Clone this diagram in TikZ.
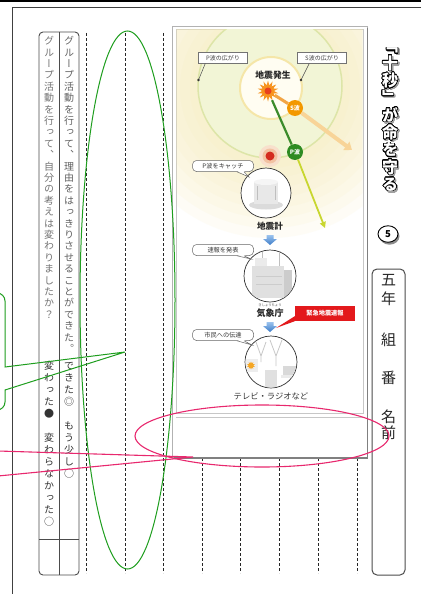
\documentclass[tikz,border=0pt]{standalone}
\usepackage{fontspec}
\usepackage{contour}
\usetikzlibrary{shapes.geometric,arrows.meta}

\newfontfamily\jp{Noto Sans CJK JP}
\newfontfamily\jpv[RawFeature=+vert]{Noto Sans CJK JP}

\contourlength{0.6pt}
\contournumber{24}

\definecolor{markgreen}{HTML}{1E9E1E}
\definecolor{markpink}{HTML}{E8286E}
\definecolor{glowcream}{HTML}{F8EDB8}
\definecolor{discgreen}{HTML}{F2F5D6}
\definecolor{discrim}{HTML}{DDE5A8}
\definecolor{corecream}{HTML}{FFFDF2}
\definecolor{corerim}{HTML}{F5E6A8}
\definecolor{burstorange}{HTML}{F7931E}
\definecolor{burstred}{HTML}{E8401E}
\definecolor{sorange}{HTML}{F39800}
\definecolor{sline}{HTML}{F2A545}
\definecolor{spale}{HTML}{F8D498}
\definecolor{pgreen}{HTML}{2E8B22}
\definecolor{pline}{HTML}{3B8B2B}
\definecolor{ptrail}{HTML}{C8D630}
\definecolor{ringouter}{HTML}{F8E0CC}
\definecolor{ringinner}{HTML}{F2C2A2}
\definecolor{stationred}{HTML}{D42A1E}
\definecolor{alertred}{HTML}{E3191C}
\definecolor{arrowtop}{HTML}{9CC3EE}
\definecolor{arrowbot}{HTML}{3C7CC8}
\definecolor{sunorange}{HTML}{F5A623}
\definecolor{titleshadow}{HTML}{A0A0A0}

% vertical (tategaki) stacking: one glyph per cell of fixed pitch
\makeatletter
\newdimen\tate@pitch
\def\tate@end{tate@end@marker}
\newcommand\tatebox[3]{\vbox{\offinterlineskip\tate@pitch=#1\relax\def\tate@cmd{#2}\tate@loop#3\tate@end}}
\def\tate@loop#1{\ifx#1\tate@end\else\tate@cell{#1}\expandafter\tate@loop\fi}
\def\tate@cell#1{\vbox to\tate@pitch{\vss\hbox to 0pt{\hss\smash{\tate@cmd{#1}}\hss}\kern\dimexpr(\tate@pitch-1em)/2+0.12em\relax}}
\makeatother
\newcommand\tateid[1]{#1}
% outlined title glyphs: white body with black contour, grey drop shadow
\newcommand\ttlglyph[1]{\contour{black}{\textcolor{white}{#1}}}
\newcommand\ttlshade[1]{\contour{titleshadow}{\textcolor{titleshadow}{#1}}}

\tikzset{
  downarrow/.pic={\shade[top color=arrowtop, bottom color=arrowbot]
    (-3.5,-5) -- (3.5,-5) -- (3.5,-1) -- (7,-1) -- (0,5) -- (-7,-1) -- (-3.5,-1) -- cycle;}
}

\begin{document}
\begin{tikzpicture}[x=1pt,y=-1pt,
  dashline/.style={black!85, line width=0.8pt, dash pattern=on 3pt off 2pt},
  tableline/.style={draw=black!70, line width=0.9pt},
  coltext/.style={anchor=north, inner sep=0pt, font=\jpv\fontsize{10}{10}\selectfont},
  titletext/.style={anchor=north, inner sep=0pt, font=\jpv\bfseries\fontsize{16}{16}\selectfont},
  wavelbl/.style={draw=black!55, fill=white, line width=0.5pt, inner sep=1pt,
    minimum width=49pt, minimum height=10.5pt, font=\jp\fontsize{6}{6}\selectfont, text=black!75},
  leader/.style={black!70, line width=0.5pt},
  badge/.style={circle, minimum size=16pt, inner sep=0pt, text=white,
    font=\jp\bfseries\fontsize{6}{6}\selectfont},
  bubble/.style={draw=black!60, fill=white, rounded corners=4pt, line width=0.5pt, inner sep=1pt,
    minimum width=61pt, minimum height=11pt, font=\jp\fontsize{6.2}{6.2}\selectfont, text=black!80},
  bubbleline/.style={black!60, line width=0.5pt},
  stage/.style={circle, draw=black!80, fill=white, line width=0.7pt, inner sep=0pt},
  caption/.style={inner sep=0pt, font=\jp\bfseries\fontsize{8.6}{9}\selectfont, text=black!85},
  alertbox/.style={fill=alertred, text=white, inner sep=1pt, minimum width=60pt, minimum height=15pt,
    font=\jp\bfseries\fontsize{6.2}{6.2}\selectfont},
  namechar/.style={inner sep=0pt, font=\jp\fontsize{15}{15}\selectfont, text=black!85}
]
\useasboundingbox (0,0) rectangle (421,594);
\fill[white] (0,0) rectangle (421,594);

% page frame
\fill[black] (0,0) rectangle (421,2);
\draw[black!75, line width=1pt] (421,8) -- (12,8) -- (12,594);

% self-evaluation table
\draw[tableline, rounded corners=4pt] (39,32) rectangle (79,575);
\draw[tableline] (59,32) -- (59,575);
\draw[tableline] (39,539) -- (79,539);
\node[coltext, text=black!62] (qreason) at (69,35)
  {\tatebox{11.4pt}{\tateid}{グループ活動を行って、理由をはっきりさせることができた。}};
\node[coltext, text=black!55] (qchange) at (49,35)
  {\tatebox{11.4pt}{\tateid}{グループ活動を行って、自分の考えは変わりましたか？}};
\node[coltext, text=black!80] (areason) at (69,359)
  {\tatebox{12pt}{\tateid}{できた◎　もう少し○}};
\node[coltext, text=black!80] (achange) at (49,359)
  {\tatebox{12pt}{\tateid}{変わった●　変わらなかった○}};

% writing lines
\foreach \x in {86,125,163,202,240,279,318,357}
  \draw[dashline] (\x,33) -- (\x,573);

% picture panel
\draw[black!30, fill=white, line width=0.6pt] (172,26) rectangle (367,457);
\draw[black!50, line width=1.5pt] (367.5,28) -- (367.5,458) -- (174,458);
\draw[black!22, fill=white, line width=0.6pt] (176,29) rectangle (363,413);
\draw[black!22, line width=0.6pt] (176,417) -- (363,417);

\begin{scope}
\clip (176.3,29.3) rectangle (362.7,412.7);
% soft glow of the spreading waves
\foreach \r in {150,140,...,80}
  \fill[glowcream, opacity=0.12] (270,88) circle[radius=\r];
\fill[discgreen] (270,86) circle[radius=72];
\draw[discrim, line width=1.5pt] (270,86) circle[radius=72];
\fill[corecream] (271,88) circle[radius=31];
\draw[corerim, line width=2pt] (271,88) circle[radius=31];

\node[wavelbl] (plbl) at (223,58) {P波の広がり};
\node[wavelbl] (slbl) at (322,58) {S波の広がり};
\coordinate (pedge) at (198.5,80);
\coordinate (sedge) at (301,80);
\draw[leader] ([xshift=7pt]plbl.south west) -- (pedge);
\draw[leader] ([xshift=12pt]slbl.south west) -- (sedge);
\fill[black!80] (pedge) circle[radius=1.3];
\fill[black!80] (sedge) circle[radius=1.3];

% epicentre and waves
\node[star, star points=14, star point ratio=1.8, minimum size=21pt, inner sep=0pt,
  fill=burstorange] (quake) at (268,91) {};
\fill[burstred] (quake.center) circle[radius=3.5];
\node[caption, font=\jp\bfseries\fontsize{8.8}{9}\selectfont] (quakecap) at (273,75.5) {地震発生};

\node[badge, fill=sorange] (sbadge) at (295,108) {S波};
\node[badge, fill=pgreen] (pbadge) at (295,152) {P波};
\coordinate (send) at (352,150);
\coordinate (pend) at (325,228);
\draw[sline, line width=3pt] (quake) -- (sbadge);
\draw[spale, line width=4pt, -{Triangle[width=10pt,length=7pt]}] (sbadge) -- (send);
\draw[pline, line width=2.2pt] (quake) -- (pbadge);
\draw[ptrail, line width=1.8pt, -{Triangle[width=6pt,length=6pt]}] (pbadge) -- (pend);

% station catching the P wave
\fill[ringouter] (270,156) circle[radius=11];
\fill[ringinner] (270,156) circle[radius=7.5];
\node[circle, fill=stationred, minimum size=9pt, inner sep=0pt] (station) at (270,156) {};

% stage 1: seismometer
\node[stage, minimum size=50pt] (seis) at (266,193) {};
\begin{scope}
\clip (266,193) circle[radius=24.5];
\fill[black!14] (266,205) ellipse (17 and 4.5);
\fill[black!9] (254,182) rectangle (278,204);
\fill[black!4] (266,182) ellipse (12 and 3);
\draw[black!25, line width=0.8pt] (257,186) -- (257,200) (275,186) -- (275,200);
\end{scope}
\node[bubble] (bcatch) at (223,166) {P波をキャッチ};
\coordinate (tcatch) at (249,177);
\fill[white] (237,171) -- (tcatch) -- (244,171) -- cycle;
\draw[bubbleline] (237,171.8) -- (tcatch) -- (244,171.8);
\node[caption] (seiscap) at (270,226) {地震計};
\pic at (270,240) {downarrow};

% stage 2: meteorological agency
\node[stage, minimum size=52pt] (jma) at (270,276) {};
\begin{scope}
\clip (270,276) circle[radius=25.5];
\fill[black!12] (252,266) rectangle (284,298);
\fill[black!20] (284,270) rectangle (292,298);
\fill[black!8] (255,258) rectangle (267,266);
\draw[black!25, line width=0.9pt] (262,250) -- (262,258) (279,252) -- (279,266);
\draw[black!20, line width=0.6pt] (256,276) -- (282,276) (256,284) -- (282,284);
\end{scope}
\node[bubble] (bissue) at (223,250) {速報を発表};
\coordinate (tissue) at (251,259);
\fill[white] (237,255) -- (tissue) -- (244,255) -- cycle;
\draw[bubbleline] (237,255.8) -- (tissue) -- (244,255.8);
\node[inner sep=0pt, font=\jp\fontsize{3.3}{3.3}\selectfont, text=black!70] (jmaruby) at (270,305.5) {きしょうちょう};
\node[caption, font=\jp\bfseries\fontsize{9}{9}\selectfont] (jmacap) at (270,313.5) {気象庁};
\node[alertbox] (alert) at (325,313.5) {緊急地震速報};
\pic at (270,327) {downarrow};
\coordinate (alerttip) at (276,328);
\fill[alertred] ([yshift=5pt]alert.south west) -- (alert.south west) -- (alerttip) -- cycle;

% stage 3: broadcasting to residents
\node[stage, minimum size=52pt] (media) at (271,362) {};
\begin{scope}
\clip (271,362) circle[radius=25.5];
\draw[black!22, line width=0.8pt] (256,342) -- (261,356) -- (266,342) (261,356) -- (261,362)
  (270,340) -- (276,356) -- (282,340) (276,356) -- (276,366);
\fill[black!7] (245,359) rectangle (258,372);
\node[star, star points=10, star point ratio=1.7, minimum size=8pt, inner sep=0pt,
  fill=sunorange] (sunicon) at (251,365.5) {};
\fill[black!12] (265,370) rectangle (277,388);
\fill[black!15] (283,366) rectangle (301,375);
\fill[black!8] (281,375) rectangle (303,378);
\end{scope}
\node[bubble] (bnotify) at (223,335) {市民への伝達};
\coordinate (tnotify) at (252,345);
\fill[white] (237,340) -- (tnotify) -- (244,340) -- cycle;
\draw[bubbleline] (237,340.8) -- (tnotify) -- (244,340.8);
\node[inner sep=0pt, font=\jp\fontsize{8.3}{8.3}\selectfont, text=black!80] (mediacap) at (271,396.5) {テレビ・ラジオなど};
\end{scope}

% title with drop shadow
\node[titletext] (titleshade) at (391.4,38.4) {\tatebox{17.3pt}{\ttlshade}{「十秒」が命を守る}};
\node[titletext] (title) at (390,37) {\tatebox{17.3pt}{\ttlglyph}{「十秒」が命を守る}};
\fill[black!45] (389.5,236.2) ellipse (10 and 8.5);
\node[ellipse, draw=black, fill=white, line width=0.9pt, minimum width=20pt, minimum height=16.5pt,
  inner sep=0pt, font=\jp\bfseries\fontsize{9.5}{9.5}\selectfont] (lesson) at (388,234) {5};

% name box
\draw[black!70, line width=1pt, rounded corners=5pt] (372,269) rectangle (405,575);
\node[namechar] (ngo) at (388.5,280) {五};
\node[namechar] (nnen) at (388.5,299) {年};
\node[namechar] (nkumi) at (388.5,340) {組};
\node[namechar] (nban) at (388.5,378) {番};
\node[namechar] (nna) at (388.5,417) {名};
\node[namechar] (nmae) at (388.5,433) {前};

% markup: green ring with callout
\draw[markgreen, line width=1pt] (127.5,300) ellipse (47.5 and 269);
\draw[markgreen, line width=1pt] (-10,293) [rounded corners=8pt] -- (5,293) -- (5,330)
  [sharp corners] -- (5,367) -- (125,352) -- (5,390) [rounded corners=8pt] -- (5,410) -- (-10,410);

% markup: pink ring with callout
\draw[markpink, line width=1.1pt] (262,436) ellipse (127 and 31);
\draw[markpink, line width=1.1pt] (-2,451) -- (193,457) -- (-2,476);
\end{tikzpicture}
\end{document}
